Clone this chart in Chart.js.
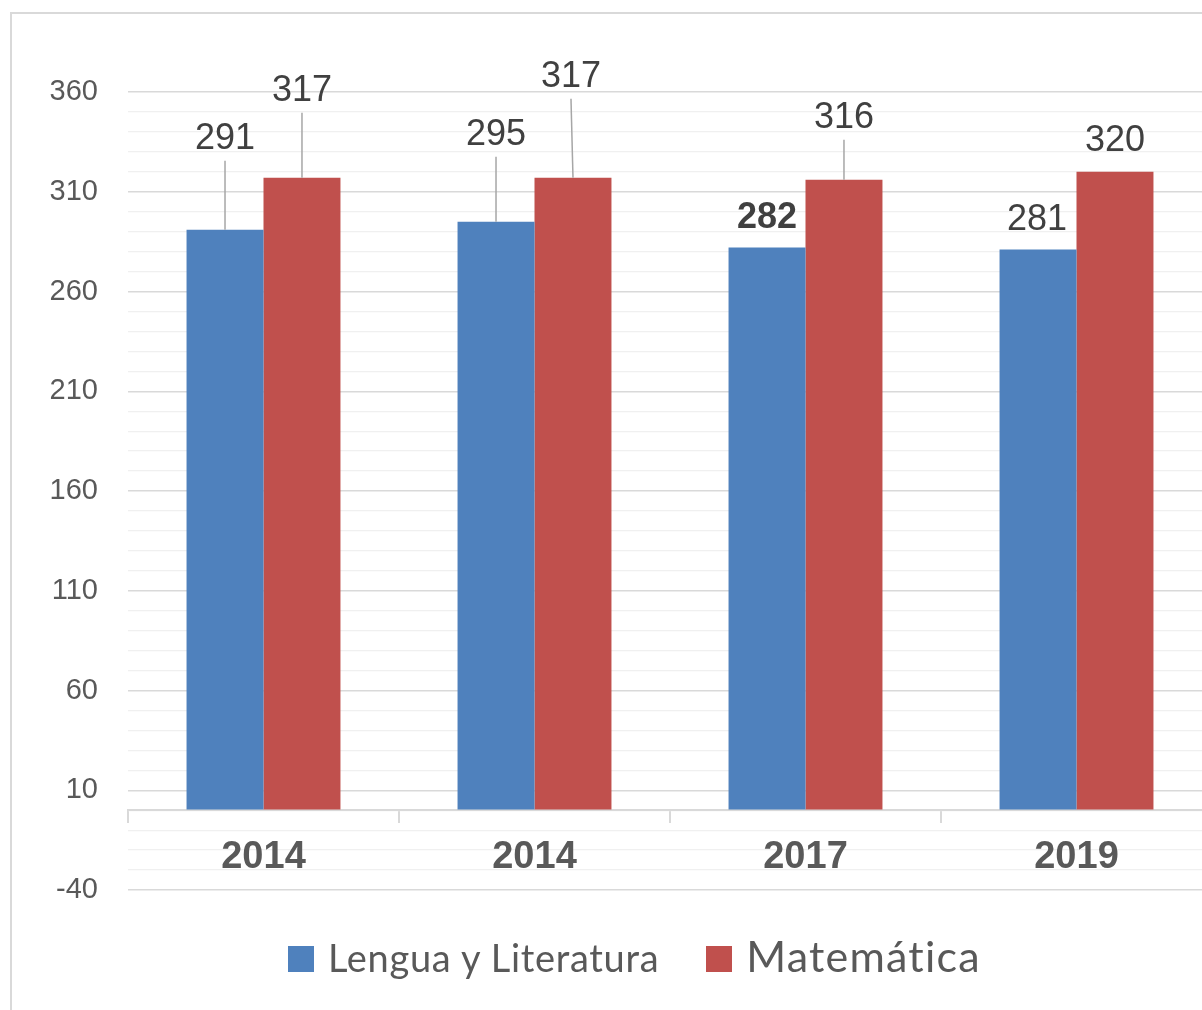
<!DOCTYPE html>
<html>
<head>
<meta charset="utf-8">
<script src="https://cdn.jsdelivr.net/npm/chart.js@4"></script>
<style>
  html, body { margin: 0; padding: 0; background: #fff; overflow: hidden; width: 1202px; height: 1010px; }
  .frame { position: absolute; left: 10px; top: 12px; width: 1300px; height: 1100px; border: 2px solid #d9d9d9; box-sizing: border-box; }
  .wrap { position: absolute; left: 0; top: 0; width: 1230px; height: 1010px; }
  .legend { position: absolute; left: 288px; top: 926px; font-family: Lato, sans-serif; font-size: 40px; line-height: 60px; color: #595959; white-space: nowrap; }
  .legend .item { display: inline-block; }
  .legend .box { display: inline-block; width: 26px; height: 26px; margin-right: 14px; }
</style>
</head>
<body>
<div class="frame"></div>
<div class="wrap"><canvas id="myChart"></canvas></div>
<div class="legend" id="legend"></div>
<script>
const years = ['2014', '2014', '2017', '2019']
const lengua = [291, 295, 282, 281]
const matematica = [317, 317, 316, 320]
const seriesNames = ['Lengua y Literatura', 'Matemática']
const seriesColors = ['#4f81bd', '#c0504d']
const yLabels = [-40, 10, 60, 110, 160, 210, 260, 310, 360]

// where each value label sits relative to the top of its bar (dx, dy) - moved by hand in the original
const labelMoves = [
  [[0, -91], [0, -87], [0, -30], [-1, -30]],
  [[0, -87], [-2, -101], [0, -62], [0, -31]]
]
const boldLabels = [[false, false, true, false], [false, false, false, false]]
const legendFonts = [[38, 0.7], [43, 1.2]]

const valueLabels = {
  id: 'valueLabels',
  afterDatasetsDraw(chart) {
    const ctx = chart.ctx
    ctx.save()
    chart.data.datasets.forEach((ds, i) => {
      const meta = chart.getDatasetMeta(i)
      meta.data.forEach((bar, j) => {
        const move = labelMoves[i][j]
        const lx = bar.x + move[0]
        const ly = bar.y + move[1]
        if (move[1] < -40) {
          ctx.strokeStyle = '#a6a6a6'
          ctx.lineWidth = 1.5
          ctx.beginPath()
          ctx.moveTo(lx, ly + 22)
          ctx.lineTo(bar.x, bar.y)
          ctx.stroke()
        }
        ctx.fillStyle = '#404040'
        ctx.font = (boldLabels[i][j] ? 'bold ' : '') + '36px "Liberation Sans", Arial, sans-serif'
        ctx.textAlign = 'center'
        ctx.textBaseline = 'middle'
        ctx.fillText(ds.data[j], lx, ly)
      })
    })
    ctx.restore()
  }
}

const data = {
  labels: years,
  datasets: [
    { label: seriesNames[0], data: lengua, backgroundColor: seriesColors[0] },
    { label: seriesNames[1], data: matematica, backgroundColor: seriesColors[1] }
  ]
}

const config = {
  type: 'bar',
  data: data,
  plugins: [valueLabels],
  options: {
    responsive: true,
    maintainAspectRatio: false,
    animation: false,
    layout: { padding: { top: 92, bottom: 120, left: 0, right: 18 } },
    plugins: { legend: { display: false }, tooltip: { enabled: false } },
    datasets: { bar: { categoryPercentage: 0.568, barPercentage: 1 } },
    scales: {
      x: {
        position: { y: 0 },
        offset: true,
        grid: { offset: true, drawOnChartArea: false, drawTicks: true, tickLength: 12, color: '#d9d9d9', lineWidth: 2 },
        border: { display: true, color: '#d9d9d9', width: 2 },
        ticks: { color: '#595959', padding: 13, font: { family: '"Liberation Sans", Arial, sans-serif', size: 38, weight: 'bold' } }
      },
      y: {
        min: -40,
        max: 360,
        afterFit: (scale) => { scale.width = 128 },
        border: { display: false },
        grid: {
          drawTicks: false,
          color: (c) => yLabels.includes(c.tick.value) ? '#d9d9d9' : '#f0f0f0',
          lineWidth: (c) => yLabels.includes(c.tick.value) ? 1.5 : 1.2
        },
        ticks: {
          stepSize: 10,
          autoSkip: false,
          padding: 30,
          color: '#595959',
          font: { family: '"Liberation Sans", Arial, sans-serif', size: 29 },
          callback: (v) => yLabels.includes(v) ? v : ''
        }
      }
    }
  }
}

const myChart = new Chart(document.getElementById('myChart'), config)

const legend = document.getElementById('legend')
legend.innerHTML = seriesNames.map((name, i) =>
  `<span class="item" style="margin-right:${i === 0 ? 47 : 0}px"><span class="box" style="background:${seriesColors[i]}"></span><span style="font-size:${legendFonts[i][0]}px;letter-spacing:${legendFonts[i][1]}px">${name}</span></span>`
).join('')
</script>
</body>
</html>
